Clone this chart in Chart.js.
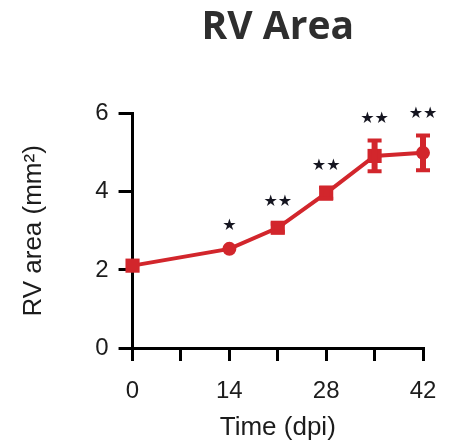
<!DOCTYPE html>
<html>
<head>
<meta charset="utf-8">
<script src="https://cdn.jsdelivr.net/npm/chart.js@4.4.1/dist/chart.umd.min.js"></script>
<style>
  html, body { margin: 0; padding: 0; background: #fff; }
  #wrap { width: 449px; height: 443px; }
</style>
</head>
<body>
<div id="wrap"><canvas id="chart"></canvas></div>
<script>
const days = [0, 14, 21, 28, 35, 42];
const rvArea = [2.11, 2.54, 3.08, 3.97, 4.92, 5.0];
const rvErr = [0.08, 0.06, 0.13, 0.17, 0.42, 0.47];
const sigMarks = ['', '★', '★★', '★★', '★★', '★★'];
const pointShapes = ['rect', 'circle', 'rect', 'rect', 'rect', 'circle'];
const xTickLabels = [0, 14, 28, 42];
const yTickLabels = [0, 2, 4, 6];

const red = '#d2262c';
const ink = '#1c1c1c';

// error bars + significance stars, drawn from the scales
const errorBars = {
    id: 'errorBars',
    afterDatasetsDraw(chart) {
        const { ctx, scales: { x, y } } = chart;
        ctx.save();
        ctx.strokeStyle = red;
        days.forEach((d, i) => {
            const px = x.getPixelForValue(d);
            const top = y.getPixelForValue(rvArea[i] + rvErr[i]);
            const bot = y.getPixelForValue(rvArea[i] - rvErr[i]);
            if (rvErr[i] > 0.1) {
                ctx.lineWidth = 6;
                ctx.beginPath();
                ctx.moveTo(px, top); ctx.lineTo(px, bot);
                ctx.stroke();
                ctx.lineWidth = 4;
                ctx.beginPath();
                ctx.moveTo(px - 7, top + 1); ctx.lineTo(px + 7, top + 1);
                ctx.moveTo(px - 7, bot - 1); ctx.lineTo(px + 7, bot - 1);
                ctx.stroke();
            }
            if (sigMarks[i]) {
                ctx.fillStyle = '#151520';
                ctx.font = '16px "DejaVu Sans"';
                ctx.textAlign = 'center';
                ctx.textBaseline = 'middle';
                ctx.fillText(sigMarks[i], px, top - 21);
            }
        });
        ctx.restore();
    }
};

new Chart(document.getElementById('chart'), {
    type: 'line',
    data: {
        datasets: [{
            data: days.map((d, i) => ({ x: d, y: rvArea[i] })),
            borderColor: red,
            backgroundColor: red,
            borderWidth: 4,
            pointStyle: pointShapes,
            pointRadius: pointShapes.map(s => s === 'rect' ? 10 : 7),
            pointBorderWidth: 0,
            tension: 0,
            clip: false
        }]
    },
    options: {
        responsive: true,
        maintainAspectRatio: false,
        animation: false,
        layout: { padding: { left: 18, right: 26, top: 0, bottom: 0 } },
        plugins: {
            legend: { display: false },
            tooltip: { enabled: false },
            title: {
                display: true,
                text: 'RV Area',
                fullSize: false,
                color: '#2e2e2e',
                font: { family: '"Open Sans"', size: 39, weight: 'bold', lineHeight: 1.2 },
                padding: { top: 4, bottom: 63 }
            }
        },
        scales: {
            x: {
                type: 'linear',
                min: 0,
                max: 42,
                border: { display: true, color: '#000', width: 3 },
                grid: { display: true, drawOnChartArea: false, drawTicks: true, tickLength: 13, color: '#000', lineWidth: 3 },
                ticks: {
                    stepSize: 7,
                    padding: 12,
                    color: ink,
                    font: { family: '"Liberation Sans"', size: 24, lineHeight: 1.5 },
                    callback: v => xTickLabels.includes(v) ? String(v) : ''
                },
                title: {
                    display: true,
                    text: 'Time (dpi)',
                    color: ink,
                    font: { family: '"Liberation Sans"', size: 26, lineHeight: 1.0 },
                    padding: { top: -6, bottom: 2 }
                }
            },
            y: {
                min: 0,
                max: 6,
                border: { display: true, color: '#000', width: 3 },
                grid: { display: true, drawOnChartArea: false, drawTicks: true, tickLength: 14, color: '#000', lineWidth: 3 },
                ticks: {
                    stepSize: 2,
                    padding: 10,
                    color: ink,
                    font: { family: '"Liberation Sans"', size: 24 },
                    callback: v => yTickLabels.includes(v) ? String(v) : ''
                },
                title: {
                    display: true,
                    text: 'RV area (mm²)',
                    color: ink,
                    font: { family: '"Liberation Sans"', size: 26 },
                    padding: { top: 0, bottom: 36 }
                }
            }
        }
    },
    plugins: [errorBars]
});
</script>
</body>
</html>
